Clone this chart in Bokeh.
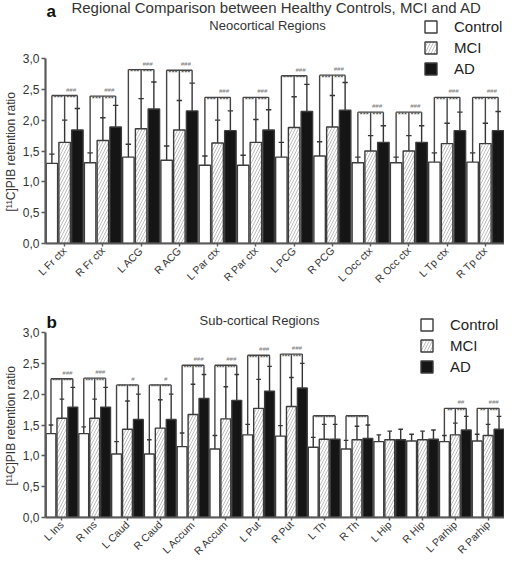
import numpy as np
from math import pi
from bokeh.plotting import figure
from bokeh.models import (Range1d, FixedTicker, CustomJSTickFormatter, Label,
                          Legend, LegendItem, Title)
from bokeh.layouts import column
from bokeh.embed import file_html
from bokeh.resources import INLINE
from bokeh.core.properties import value

# ---------------- Panel a: neocortical regions ----------------
regions_a = ["L Fr ctx", "R Fr ctx", "L ACG", "R ACG", "L Par ctx", "R Par ctx",
             "L PCG", "R PCG", "L Occ ctx", "R Occ ctx", "L Tp ctx", "R Tp ctx"]
control_a = [1.30, 1.31, 1.40, 1.35, 1.27, 1.27, 1.40, 1.42, 1.31, 1.31, 1.32, 1.32]
control_a_sd = [0.15, 0.16, 0.21, 0.23, 0.15, 0.16, 0.24, 0.23, 0.09, 0.09, 0.15, 0.15]
mci_a = [1.64, 1.67, 1.86, 1.84, 1.63, 1.64, 1.88, 1.89, 1.50, 1.50, 1.62, 1.62]
mci_a_sd = [0.36, 0.37, 0.49, 0.48, 0.37, 0.37, 0.50, 0.51, 0.25, 0.25, 0.33, 0.33]
ad_a = [1.84, 1.89, 2.18, 2.15, 1.83, 1.84, 2.14, 2.16, 1.64, 1.64, 1.83, 1.83]
ad_a_sd = [0.35, 0.35, 0.44, 0.45, 0.32, 0.33, 0.44, 0.45, 0.27, 0.27, 0.30, 0.31]
bracket_a = [2.40, 2.39, 2.82, 2.81, 2.37, 2.37, 2.72, 2.73, 2.13, 2.13, 2.37, 2.37]
sig_left_a = ["***"] * 12
sig_right_a = ["***"] * 12
sig_hash_a = ["###"] * 12

# ---------------- Panel b: sub-cortical regions ----------------
regions_b = ["L Ins", "R Ins", "L Caud", "R Caud", "L Accum", "R Accum", "L Put",
             "R Put", "L Th", "R Th", "L Hip", "R Hip", "L Parhip", "R Parhip"]
control_b = [1.36, 1.36, 1.03, 1.03, 1.15, 1.11, 1.34, 1.32, 1.14, 1.11, 1.23, 1.24, 1.23, 1.24]
control_b_sd = [0.14, 0.11, 0.20, 0.23, 0.22, 0.22, 0.17, 0.17, 0.16, 0.14, 0.11, 0.11, 0.10, 0.11]
mci_b = [1.61, 1.61, 1.43, 1.45, 1.67, 1.60, 1.77, 1.80, 1.27, 1.26, 1.26, 1.26, 1.34, 1.33]
mci_b_sd = [0.31, 0.31, 0.46, 0.46, 0.49, 0.52, 0.47, 0.47, 0.24, 0.22, 0.14, 0.14, 0.19, 0.18]
ad_b = [1.79, 1.79, 1.59, 1.59, 1.93, 1.90, 2.05, 2.10, 1.27, 1.28, 1.26, 1.27, 1.42, 1.43]
ad_b_sd = [0.32, 0.32, 0.41, 0.41, 0.39, 0.42, 0.40, 0.40, 0.24, 0.22, 0.17, 0.15, 0.22, 0.21]
bracket_b = [2.25, 2.26, 2.15, 2.15, 2.47, 2.47, 2.63, 2.65, 1.65, 1.65, None, None, 1.77, 1.77]
sig_left_b = ["***"] * 10 + ["", ""] + ["**", "**"]
sig_right_b = ["***"] * 10 + ["", ""] + ["***", "***"]
sig_hash_b = ["###", "###", "#", "#", "###", "###", "###", "###", "", "", "", "", "##", "###"]

group_names = ["Control", "MCI", "AD"]
y_ticks = [0.0, 0.5, 1.0, 1.5, 2.0, 2.5, 3.0]
y_max = 3.0

FONT = "Liberation Sans"
EDGE = "#3c3c3c"
AXIS = "#5a5a5a"

SC3 = 185          # pixels for the 0..3 span of the y axis
HEAD_A = 58        # pixels above 3,0 in panel a
HEAD_B = 40        # pixels above 3,0 in panel b
LEG_H = 59         # legend height (3 rows of 17 + 2 x 4)


def make_panel(regions, ctrl, ctrl_sd, mci, mci_sd, ad, ad_sd, brackets,
               sl, sr, sh, head, letter, letter_dy, subtitle, sub_xy,
               legend_xy, star_size, main_title=None):
    n = len(regions)
    idx = np.arange(n, dtype=float)
    offs = [-1.0 / 3, 0.0, 1.0 / 3]
    fh = SC3 + head
    p = figure(width=504, frame_height=fh, output_backend="svg", toolbar_location=None,
               x_range=Range1d(-0.5, n - 0.5),
               y_range=Range1d(0, y_max * fh / SC3),
               min_border_left=0, min_border_right=0, min_border_top=0,
               min_border_bottom=0,
               background_fill_color="white", border_fill_color="white")
    p.outline_line_color = None
    p.xgrid.visible = False
    p.ygrid.visible = False

    means = [np.array(ctrl), np.array(mci), np.array(ad)]
    sds = [np.array(ctrl_sd), np.array(mci_sd), np.array(ad_sd)]
    renderers = []
    styles = [dict(fill_color="white"),
              dict(fill_color="white", hatch_pattern="right_diagonal_line",
                   hatch_color="#b4b4b4", hatch_scale=6, hatch_weight=0.9),
              dict(fill_color="#151515")]
    for k in range(3):
        xs = idx + offs[k]
        tops = means[k] + sds[k]
        p.segment(x0=xs, y0=means[k], x1=xs, y1=tops, line_color="#333333", line_width=1.4)
        p.segment(x0=xs - 0.07, y0=tops, x1=xs + 0.07, y1=tops,
                  line_color="#333333", line_width=1.4)
        r = p.vbar(x=xs, top=means[k], bottom=0, width=0.3, line_color=EDGE,
                   line_width=1.4, **styles[k])
        renderers.append(r)

    # significance brackets
    hx0, hx1, hy = [], [], []
    vx, vy0, vy1 = [], [], []
    tx, ty, tt = [], [], []
    hxs, hys, hts = [], [], []
    for i, h in enumerate(brackets):
        if h is None:
            continue
        hx0.append(i + offs[0]); hx1.append(i + offs[2]); hy.append(h)
        for k in range(3):
            vx.append(i + offs[k]); vy0.append(h)
            vy1.append(means[k][i] + sds[k][i])
        tx += [i - 1.0 / 6, i + 1.0 / 6]; ty += [h, h]; tt += [sl[i], sr[i]]
        hxs.append(i + 1.0 / 6); hys.append(h); hts.append(sh[i])
    p.segment(x0=hx0, y0=hy, x1=hx1, y1=hy, line_color="#444444", line_width=1.4)
    p.segment(x0=vx, y0=vy0, x1=vx, y1=vy1, line_color="#444444", line_width=1.4)
    p.text(x=tx, y=ty, text=tt, text_align="center", text_baseline="alphabetic",
           y_offset=2, text_font=value(FONT), text_font_size=star_size,
           text_color="#4a4a4a")
    p.text(x=hxs, y=hys, text=hts, text_align="center", text_baseline="alphabetic",
           y_offset=-6, text_font=value(FONT), text_font_size="6px",
           text_font_style="italic", text_color="#777777")

    # axes
    ya = p.yaxis[0]
    ya.ticker = FixedTicker(ticks=y_ticks)
    ya.bounds = (0, y_max)
    ya.formatter = CustomJSTickFormatter(code="return tick.toFixed(1).replace('.', ',');")
    ya.major_label_standoff = 2
    xa = p.xaxis[0]
    xa.ticker = FixedTicker(ticks=list(range(n)))
    xa.major_label_overrides = {i: name for i, name in enumerate(regions)}
    xa.major_label_orientation = pi / 4
    xa.major_label_standoff = 2
    for ax in (xa, ya):
        ax.axis_line_color = AXIS
        ax.axis_line_width = 2.2
        ax.major_tick_line_color = AXIS
        ax.major_tick_line_width = 1.4
        ax.major_tick_in = 0
        ax.major_tick_out = 4
        ax.minor_tick_line_color = None
        ax.major_label_text_font = FONT
        ax.major_label_text_color = "#333333"
    xa.major_tick_out = 3
    ya.major_label_text_font_size = "12px"
    xa.major_label_text_font_size = "10.5px"

    # y axis title as a left-side title, centred along the 0..3 span
    p.add_layout(Title(text="[\u00b9\u00b9C]PIB retention ratio", align="left", offset=32,
                       text_font=FONT, text_font_size="12px", text_font_style="normal",
                       text_color="#333333", standoff=3), "left")

    # texts above the data
    p.add_layout(Label(x=1, y=SC3 + letter_dy, x_units="screen", y_units="screen",
                       text=letter, text_font=FONT, text_font_size="17px",
                       text_font_style="bold", text_color="#111111", text_baseline="top"))
    if main_title:
        p.add_layout(Label(x=231, y=fh - 7, x_units="screen", y_units="screen",
                           text=main_title, text_font=FONT, text_font_size="15px",
                           text_color="#333333", text_align="center", text_baseline="middle"))
    p.add_layout(Label(x=sub_xy[0], y=SC3 + sub_xy[1], x_units="screen", y_units="screen",
                       text=subtitle, text_font=FONT, text_font_size="13px",
                       text_color="#333333", text_align="center", text_baseline="middle"))

    legend = Legend(items=[LegendItem(label=group_names[k], renderers=[renderers[k]])
                           for k in range(3)],
                    location=(legend_xy[0], SC3 + legend_xy[1] - LEG_H),
                    orientation="vertical",
                    glyph_width=15, glyph_height=15, label_height=15, spacing=4,
                    padding=0, margin=0, label_standoff=16,
                    label_text_font=FONT, label_text_font_size="15px",
                    label_text_color="#222222", border_line_color=None,
                    background_fill_alpha=0)
    p.add_layout(legend)
    return p


pa = make_panel(regions_a, control_a, control_a_sd, mci_a, mci_a_sd, ad_a, ad_a_sd,
                bracket_a, sig_left_a, sig_right_a, sig_hash_a,
                HEAD_A, "a", 57, "Neocortical Regions", (222, 33), (378, 40), "8px",
                main_title="Regional Comparison between Healthy Controls, MCI and AD")
pb = make_panel(regions_b, control_b, control_b_sd, mci_b, mci_b_sd, ad_b, ad_b_sd,
                bracket_b, sig_left_b, sig_right_b, sig_hash_b,
                HEAD_B, "b", 20, "Sub-cortical Regions", (214, 12), (374, 16), "7px")

layout = column(pa, pb, spacing=0)
open("out.html", "w").write(file_html(layout, INLINE))
